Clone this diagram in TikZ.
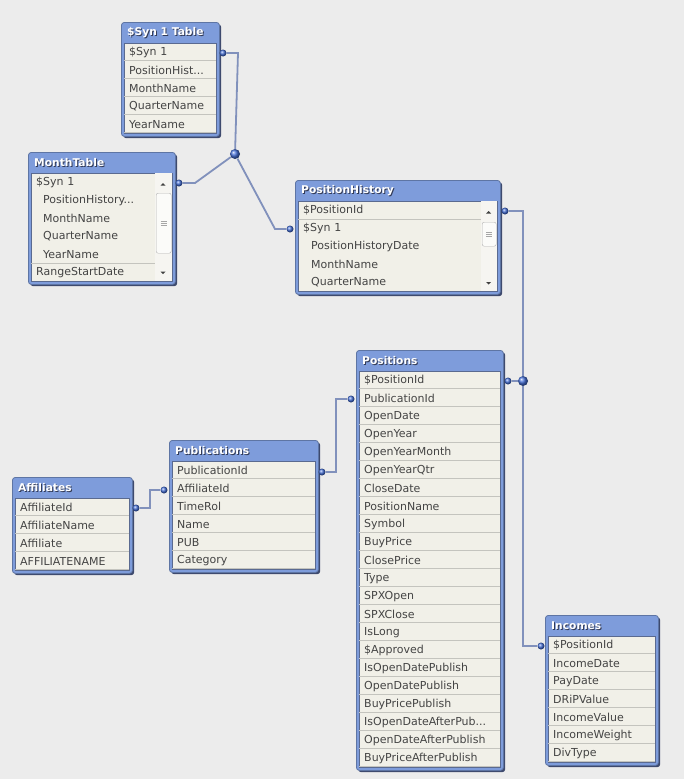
\documentclass[tikz,border=0pt]{standalone}
\usepackage{fontspec}
\setmainfont{DejaVu Sans}
\usepackage{tikz}
\usetikzlibrary{positioning}

\definecolor{canvas}{HTML}{ECECEC}
\definecolor{titleblue}{HTML}{7E9CDB}
\definecolor{framedark}{HTML}{3E4A6E}
\definecolor{rowbg}{HTML}{F1F0E8}
\definecolor{rowline}{HTML}{C4C4BE}
\definecolor{rowtext}{HTML}{444444}
\definecolor{innerline}{HTML}{5A6A90}
\definecolor{linkc}{HTML}{8191BC}
\definecolor{dotc}{HTML}{4670D8}
\definecolor{scrollc}{HTML}{F6F5F1}

% abgeschnittene Feldnamen
\newcommand{\clipdots}{...}

\begin{document}
\begin{tikzpicture}[x=1pt, y=-1pt,
        frameshadow/.style = {anchor=north west, fill=framedark, rounded corners=3pt, inner sep=0pt},
        frame/.style       = {anchor=north west, draw=titleblue!75!black, fill=titleblue,
                              rounded corners=3pt, line width=0.8pt, inner sep=0pt},
        rowsarea/.style    = {anchor=north west, draw=innerline, fill=rowbg, line width=0.6pt, inner sep=0pt},
        title/.style       = {anchor=west, inner sep=0pt, text=white,
                              font=\fontsize{10.7}{12}\selectfont\bfseries},
        titleshadow/.style = {title, text=framedark!80!black},
        plainrow/.style    = {anchor=north west, minimum height=18, inner xsep=5pt, inner ysep=0pt,
                              text width=#1, align=left, text=rowtext,
                              font=\fontsize{11}{13}\selectfont},
        row/.style         = {plainrow=#1, path picture={\draw[rowline, line width=0.9pt]
                              ([yshift=0.45pt]path picture bounding box.south west) --
                              ([yshift=0.45pt]path picture bounding box.south east);}},
        scrollbg/.style    = {anchor=north west, fill=scrollc, inner sep=0pt},
        thumb/.style       = {anchor=north west, draw=gray!60, fill=white!60!scrollc,
                              rounded corners=2pt, inner sep=0pt},
        grip/.style        = {gray!70, line width=0.6pt},
        tip/.style         = {fill=black!75},
        link/.style        = {linkc, line width=1.8pt},
        pin/.style         = {circle, shading=ball, ball color=dotc, minimum size=7, inner sep=0pt},
        hub/.style         = {circle, shading=ball, ball color=dotc, minimum size=10, inner sep=0pt},
    ]
        \fill[canvas] (0,0) rectangle (684,779);
        \useasboundingbox (0,0) rectangle (684,779);

        % ---- $Syn 1 Table ----
        \node[frameshadow, minimum width=98, minimum height=114] (syn-s) at (123,24) {};
        \node[frame, minimum width=98, minimum height=114] (syn) at (121,22) {};
        \node[titleshadow] (syn-ts) at (128,34) {\$Syn 1 Table};
        \node[title] (syn-t) at (127,33) {\$Syn 1 Table};
        \node[rowsarea, minimum width=92, minimum height=90] (syn-r) at (124,43) {};
        \foreach \f [count=\i] in {\$Syn 1, PositionHist\clipdots, MonthName, QuarterName, YearName}
            \node[row=82] (syn-\i) at (124, 25+18*\i) {\f};

        % ---- MonthTable (mit Scrollbar) ----
        \node[frameshadow, minimum width=147, minimum height=132] (mon-s) at (30,154) {};
        \node[frame, minimum width=147, minimum height=132] (mon) at (28,152) {};
        \node[titleshadow] (mon-ts) at (35,164) {MonthTable};
        \node[title] (mon-t) at (34,163) {MonthTable};
        \node[rowsarea, minimum width=141, minimum height=108] (mon-r) at (31,173) {};
        \foreach \f/\s [count=\i] in {\$Syn 1/0, PositionHistory\clipdots/7, MonthName/7,
                                      QuarterName/7, YearName/7, RangeStartDate/0}
            \node[plainrow=114] (mon-\i) at (31, 155+18*\i) {\hspace*{\s pt}\f};
        \draw[rowline, line width=0.9pt] (mon-5.south west) -- (mon-5.south east);
        \node[scrollbg, minimum width=17, minimum height=108] (mon-sb) at (155,173) {};
        \node[thumb, minimum width=15, minimum height=60] (mon-th) at (156,193) {};
        \foreach \d in {-2,0,2}
            \draw[grip] ([xshift=-3pt, yshift=\d pt]mon-th.center) -- ([xshift=3pt, yshift=\d pt]mon-th.center);
        \fill[tip] (160.5,185.5) -- (165.5,185.5) -- (163,183) -- cycle;
        \fill[tip] (160.5,271.5) -- (165.5,271.5) -- (163,274) -- cycle;

        % ---- PositionHistory (mit Scrollbar) ----
        \node[frameshadow, minimum width=205, minimum height=114] (his-s) at (297,182) {};
        \node[frame, minimum width=205, minimum height=114] (his) at (295,180) {};
        \node[titleshadow] (his-ts) at (302,192) {PositionHistory};
        \node[title] (his-t) at (301,191) {PositionHistory};
        \node[rowsarea, minimum width=199, minimum height=90] (his-r) at (298,201) {};
        \foreach \f/\s [count=\i] in {\$PositionId/0, \$Syn 1/0, PositionHistoryDate/8,
                                      MonthName/8, QuarterName/8}
            \node[plainrow=174] (his-\i) at (298, 183+18*\i) {\hspace*{\s pt}\f};
        \draw[rowline, line width=0.9pt] (his-1.south west) -- (his-1.south east);
        \node[scrollbg, minimum width=16, minimum height=90] (his-sb) at (481,201) {};
        \node[thumb, minimum width=14, minimum height=24] (his-th) at (482,222) {};
        \foreach \d in {-2,0,2}
            \draw[grip] ([xshift=-3pt, yshift=\d pt]his-th.center) -- ([xshift=3pt, yshift=\d pt]his-th.center);
        \fill[tip] (486,213.5) -- (491,213.5) -- (488.5,211) -- cycle;
        \fill[tip] (486,282) -- (491,282) -- (488.5,284.5) -- cycle;

        % ---- Positions ----
        \node[frameshadow, minimum width=147, minimum height=420] (pos-s) at (358,352) {};
        \node[frame, minimum width=147, minimum height=420] (pos) at (356,350) {};
        \node[titleshadow] (pos-ts) at (363,362) {Positions};
        \node[title] (pos-t) at (362,361) {Positions};
        \node[rowsarea, minimum width=141, minimum height=396] (pos-r) at (359,371) {};
        \foreach \f [count=\i] in {\$PositionId, PublicationId, OpenDate, OpenYear, OpenYearMonth,
                                   OpenYearQtr, CloseDate, PositionName, Symbol, BuyPrice, ClosePrice,
                                   Type, SPXOpen, SPXClose, IsLong, \$Approved, IsOpenDatePublish,
                                   OpenDatePublish, BuyPricePublish, IsOpenDateAfterPub\clipdots,
                                   OpenDateAfterPublish, BuyPriceAfterPublish}
            \node[row=131] (pos-\i) at (359, 353+18*\i) {\f};

        % ---- Publications ----
        \node[frameshadow, minimum width=149, minimum height=132] (pub-s) at (171,442) {};
        \node[frame, minimum width=149, minimum height=132] (pub) at (169,440) {};
        \node[titleshadow] (pub-ts) at (176,452) {Publications};
        \node[title] (pub-t) at (175,451) {Publications};
        \node[rowsarea, minimum width=143, minimum height=108] (pub-r) at (172,461) {};
        \foreach \f [count=\i] in {PublicationId, AffiliateId, TimeRol, Name, PUB, Category}
            \node[row=133] (pub-\i) at (172, 443+18*\i) {\f};

        % ---- Affiliates ----
        \node[frameshadow, minimum width=120, minimum height=96] (aff-s) at (14,479) {};
        \node[frame, minimum width=120, minimum height=96] (aff) at (12,477) {};
        \node[titleshadow] (aff-ts) at (19,489) {Affiliates};
        \node[title] (aff-t) at (18,488) {Affiliates};
        \node[rowsarea, minimum width=114, minimum height=72] (aff-r) at (15,498) {};
        \foreach \f [count=\i] in {AffiliateId, AffiliateName, Affiliate, AFFILIATENAME}
            \node[row=104] (aff-\i) at (15, 480+18*\i) {\f};

        % ---- Incomes ----
        \node[frameshadow, minimum width=113, minimum height=150] (inc-s) at (547,617) {};
        \node[frame, minimum width=113, minimum height=150] (inc) at (545,615) {};
        \node[titleshadow] (inc-ts) at (552,627) {Incomes};
        \node[title] (inc-t) at (551,626) {Incomes};
        \node[rowsarea, minimum width=107, minimum height=126] (inc-r) at (548,636) {};
        \foreach \f [count=\i] in {\$PositionId, IncomeDate, PayDate, DRiPValue, IncomeValue,
                                   IncomeWeight, DivType}
            \node[row=97] (inc-\i) at (548, 618+18*\i) {\f};

        % ---- Anschlusspunkte ----
        \node[pin] (syn-p)  at (223,53)  {};
        \node[pin] (mon-p)  at (179,183) {};
        \node[pin] (his-p1) at (290,229) {};
        \node[pin] (his-p2) at (505,211) {};
        \node[pin] (pos-p1) at (351,399) {};
        \node[pin] (pos-p2) at (508,381) {};
        \node[pin] (pub-p1) at (322,472) {};
        \node[pin] (pub-p2) at (164,490) {};
        \node[pin] (aff-p)  at (136,508) {};
        \node[pin] (inc-p)  at (541,646) {};
        \node[hub] (syn-hub) at (235,154) {};
        \node[hub] (pid-hub) at (523,381) {};

        % ---- Verbindungen ----
        \draw[link] (syn-p) -- ++(15,0) -- (syn-hub);
        \draw[link] (mon-p) -- ++(16,0) -- (syn-hub);
        \draw[link] (syn-hub) -- ([xshift=-15pt]his-p1.center) -- (his-p1);
        \draw[link] (his-p2) -| (pid-hub);
        \draw[link] (pos-p2) -- (pid-hub);
        \draw[link] (pid-hub) |- (inc-p);
        \draw[link] (pub-p1) -- ++(14,0) |- (pos-p1);
        \draw[link] (aff-p) -- ++(14,0) |- (pub-p2);
    \end{tikzpicture}
\end{document}
